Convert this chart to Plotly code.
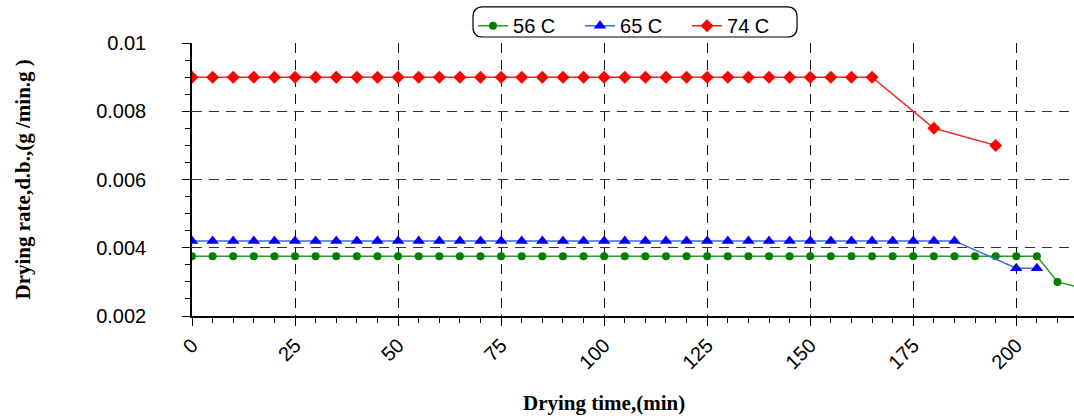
import plotly.graph_objects as go

# Drying time (min), sampled every 5 minutes
t_56 = list(range(0, 215, 5)) + [215]
rate_56 = [0.00375] * 42 + [0.0030, 0.00285]

t_65 = list(range(0, 190, 5)) + [200, 205]
rate_65 = [0.0042] * 38 + [0.0034, 0.0034]

t_74 = list(range(0, 170, 5)) + [180, 195]
rate_74 = [0.009] * 34 + [0.0075, 0.0070]

x_ticks = [0, 25, 50, 75, 100, 125, 150, 175, 200]
y_ticks = [0.002, 0.004, 0.006, 0.008, 0.01]
y_tick_text = ["0.002", "0.004", "0.006", "0.008", "0.01"]

fig = go.Figure()
fig.add_trace(go.Scatter(
    x=t_56, y=rate_56, name="56 C", mode="lines+markers",
    line=dict(color="#2a9a2a", width=1.5),
    marker=dict(symbol="circle", size=8, color="#008000"),
))
fig.add_trace(go.Scatter(
    x=t_65, y=rate_65, name="65 C", mode="lines+markers",
    line=dict(color="#3a6fd8", width=1.5),
    marker=dict(symbol="triangle-up", size=11, color="#0000ff"),
))
fig.add_trace(go.Scatter(
    x=t_74, y=rate_74, name="74 C", mode="lines+markers",
    line=dict(color="#ff2020", width=1.5),
    marker=dict(symbol="diamond", size=10, color="#ff0000"),
))

# Rounded frame around the legend
x0, x1, y0, y1 = 0.3186, 0.686, 1.022, 1.132
rx, ry = 0.0113, 0.037
legend_box = (
    f"M {x0+rx},{y1} L {x1-rx},{y1} Q {x1},{y1} {x1},{y1-ry} "
    f"L {x1},{y0+ry} Q {x1},{y0} {x1-rx},{y0} "
    f"L {x0+rx},{y0} Q {x0},{y0} {x0},{y0+ry} "
    f"L {x0},{y1-ry} Q {x0},{y1} {x0+rx},{y1} Z"
)

title_font = dict(family="Liberation Serif, Times New Roman", size=21, color="black")

fig.update_layout(
    width=1074, height=419,
    margin=dict(l=192, r=0, t=43, b=103),
    paper_bgcolor="white", plot_bgcolor="white",
    font=dict(family="Liberation Sans, Arial", size=20, color="black"),
    showlegend=True,
    legend=dict(
        orientation="h", x=0.3186, xanchor="left", y=1.135, yanchor="top",
        font=dict(size=20), entrywidth=62, bgcolor="rgba(0,0,0,0)",
        itemwidth=30, tracegroupgap=0,
    ),
    shapes=[dict(type="path", path=legend_box, xref="paper", yref="paper",
                 line=dict(color="black", width=1.2), fillcolor="rgba(0,0,0,0)")],
    annotations=[
        dict(text="<b>Drying time,(min)</b>", xref="paper", yref="paper",
             x=(604 - 192) / 882, y=0, yshift=-87, xanchor="center", yanchor="middle",
             showarrow=False, font=title_font),
        dict(text="<b>Drying rate,d.b.,(g /min.g )</b>", xref="paper", yref="paper",
             x=0, xshift=-170, y=0.5, xanchor="center", yanchor="middle",
             textangle=-90, showarrow=False, font=title_font),
    ],
    xaxis=dict(
        range=[0, 214], tickvals=x_ticks, tickangle=-45,
        ticks="outside", ticklen=8, tickcolor="black",
        showline=True, linecolor="black", linewidth=1.5,
        showgrid=True, gridcolor="#111", griddash="10px,7px", gridwidth=1,
        zeroline=False,
        minor=dict(dtick=5, ticks="outside", ticklen=5, tickcolor="black", showgrid=False),
    ),
    yaxis=dict(
        range=[0.002, 0.01], tickvals=y_ticks, ticktext=y_tick_text,
        ticks="outside", ticklen=8, tickcolor="black", ticklabelstandoff=32,
        showline=True, linecolor="black", linewidth=1.5,
        showgrid=True, gridcolor="#333", griddash="10px,7px", gridwidth=1,
        zeroline=False,
        minor=dict(dtick=0.0005, ticks="outside", ticklen=5, tickcolor="black", showgrid=False),
    ),
)

fig.write_html("out.html")
